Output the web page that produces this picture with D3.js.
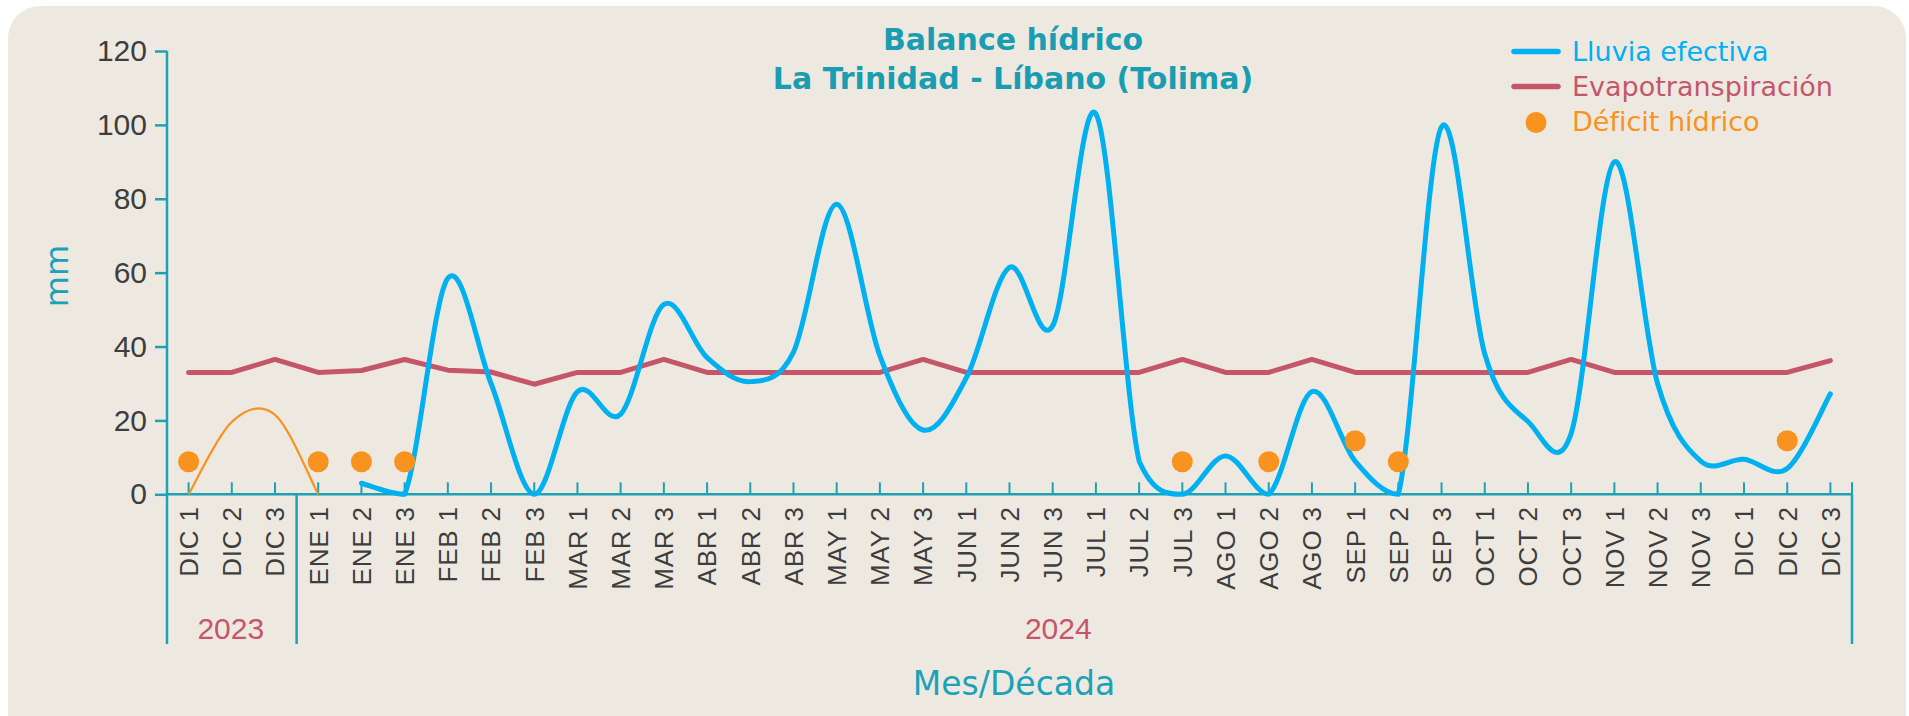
<!DOCTYPE html>
<html lang="es">
    <head>
        <meta charset="UTF-8" />
        <title>Balance hídrico</title>
        <script src="https://cdn.jsdelivr.net/npm/d3@7"></script>
    </head>
    <body style="padding: 0; margin: 0; background-color: #fff;">
        <script>
            // datos por década
            const categories = [
                'DIC 1', 'DIC 2', 'DIC 3',
                'ENE 1', 'ENE 2', 'ENE 3', 'FEB 1', 'FEB 2', 'FEB 3',
                'MAR 1', 'MAR 2', 'MAR 3', 'ABR 1', 'ABR 2', 'ABR 3',
                'MAY 1', 'MAY 2', 'MAY 3', 'JUN 1', 'JUN 2', 'JUN 3',
                'JUL 1', 'JUL 2', 'JUL 3', 'AGO 1', 'AGO 2', 'AGO 3',
                'SEP 1', 'SEP 2', 'SEP 3', 'OCT 1', 'OCT 2', 'OCT 3',
                'NOV 1', 'NOV 2', 'NOV 3', 'DIC 1', 'DIC 2', 'DIC 3'
            ];
            const years = ['2023', '2024'];
            const yearFirstIndex = [0, 3];

            const lluvia = [
                null, null, null,
                null, 3, 0, 58.5, 30, 0,
                27.8, 21.7, 51.4, 37, 30.5, 38.5,
                78.5, 37.5, 17.4, 31.5, 61.4, 45.6,
                103, 9, 0, 10.4, 0, 27.8,
                9, 0, 99.5, 38, 19.7, 16.5,
                90, 30, 9, 9.5, 7, 27.2
            ];
            const lluvia2023 = [
                0, 19.6, 21.5, 0, null, null, null, null, null,
                null, null, null, null, null, null, null, null, null,
                null, null, null, null, null, null, null, null, null,
                null, null, null, null, null, null, null, null, null,
                null, null, null
            ];
            const evapotranspiracion = [
                33, 33, 36.5,
                33, 33.5, 36.5, 33.6, 33.1, 29.8,
                33, 33, 36.5, 33, 33, 33,
                33, 33, 36.5, 33, 33, 33,
                33, 33, 36.5, 33, 33, 36.5,
                33, 33, 33, 33, 33, 36.5,
                33, 33, 33, 33, 33, 36.2
            ];
            const deficit = [
                8.8, null, null,
                8.8, 8.8, 8.8, null, null, null,
                null, null, null, null, null, null,
                null, null, null, null, null, null,
                null, null, 8.8, null, 8.8, null,
                14.5, 8.8, null, null, null, null,
                null, null, null, null, 14.5, null
            ];
            const yTicks = [0, 20, 40, 60, 80, 100, 120];

            const width = 1909;
            const height = 716;
            const teal = '#1ca2b7';
            const azul = '#00b0f0';
            const rojo = '#c5566a';
            const naranja = '#f7931e';
            const gris = '#3d3d3d';

            const plotLeft = 167, plotRight = 1852, plotTop = 51, plotBottom = 494.3;
            const axisBottomEnd = 644;

            // curva suavizada tipo Excel: Bezier de Catmull-Rom sin bajar del eje
            function curveSmooth(floorY) {
                return function (context) {
                    let pts = [];
                    return {
                        areaStart() {},
                        areaEnd() {},
                        lineStart() { pts = []; },
                        point(px, py) { pts.push([+px, +py]); },
                        lineEnd() {
                            if (!pts.length) return;
                            context.moveTo(pts[0][0], pts[0][1]);
                            for (let i = 0; i < pts.length - 1; i++) {
                                const p0 = pts[i - 1] || pts[i];
                                const p1 = pts[i];
                                const p2 = pts[i + 1];
                                const p3 = pts[i + 2] || p2;
                                const c1 = [p1[0] + (p2[0] - p0[0]) / 6, Math.min(floorY, p1[1] + (p2[1] - p0[1]) / 6)];
                                const c2 = [p2[0] - (p3[0] - p1[0]) / 6, Math.min(floorY, p2[1] - (p3[1] - p1[1]) / 6)];
                                context.bezierCurveTo(c1[0], c1[1], c2[0], c2[1], p2[0], p2[1]);
                            }
                        }
                    };
                };
            }

            const svg = d3
                .select('body')
                .append('svg')
                .attr('width', width)
                .attr('height', height);

            // fondo
            svg.append('rect')
                .attr('x', 8)
                .attr('y', 6)
                .attr('width', 1898)
                .attr('height', 780)
                .attr('rx', 32)
                .attr('fill', '#ede9e1');

            const x = d3
                .scaleBand()
                .domain(categories.map((d, i) => i))
                .range([plotLeft, plotRight]);
            const cx = i => x(i) + x.bandwidth() / 2;

            const y = d3.scaleLinear().domain([0, 120]).range([plotBottom, plotTop]);

            // título
            const title = svg.append('text')
                .attr('text-anchor', 'middle')
                .attr('font-family', 'DejaVu Sans')
                .attr('font-weight', 'bold')
                .attr('font-size', 30)
                .attr('fill', '#1a9db1');
            title.append('tspan').attr('x', 1013).attr('y', 49.5).text('Balance hídrico');
            title.append('tspan').attr('x', 1013).attr('y', 88.5).text('La Trinidad - Líbano (Tolima)');

            // eje y
            const yAxis = svg.append('g')
                .attr('transform', `translate(${plotLeft},0)`)
                .call(d3.axisLeft(y).tickValues(yTicks).tickSizeInner(12).tickSizeOuter(0).tickPadding(8));
            yAxis.select('.domain').remove();
            yAxis.selectAll('.tick line').attr('stroke', teal).attr('stroke-width', 2.5);
            yAxis.selectAll('.tick text')
                .attr('font-family', 'Liberation Sans, Arial, sans-serif')
                .attr('font-size', 30)
                .attr('fill', gris);

            svg.append('line')
                .attr('x1', plotLeft).attr('x2', plotLeft)
                .attr('y1', plotTop).attr('y2', axisBottomEnd)
                .attr('stroke', teal).attr('stroke-width', 2.5);

            svg.append('text')
                .attr('transform', 'translate(68,276) rotate(-90)')
                .attr('text-anchor', 'middle')
                .attr('font-family', 'DejaVu Sans')
                .attr('font-size', 32)
                .attr('fill', teal)
                .text('mm');

            // eje x
            const xAxis = svg.append('g')
                .attr('transform', `translate(0,${plotBottom})`)
                .call(d3.axisBottom(x).tickSizeInner(-12).tickSizeOuter(0).tickFormat(i => categories[i]));
            xAxis.select('.domain').attr('stroke', teal).attr('stroke-width', 2.5)
                .attr('d', `M${plotLeft},0H${plotRight}`);
            xAxis.selectAll('.tick line').attr('stroke', teal).attr('stroke-width', 2);
            xAxis.selectAll('.tick text')
                .attr('transform', 'translate(0,12) rotate(-90)')
                .attr('x', 0)
                .attr('y', 0)
                .attr('dy', '0.36em')
                .attr('text-anchor', 'end')
                .attr('font-family', 'Liberation Sans, Arial, sans-serif')
                .attr('font-size', 26)
                .attr('letter-spacing', 0.8)
                .attr('fill', gris);
            xAxis.append('line')
                .attr('x1', plotRight).attr('x2', plotRight)
                .attr('y1', 0).attr('y2', -12)
                .attr('stroke', teal).attr('stroke-width', 2);

            // separadores de año
            const bounds = yearFirstIndex.map(i => x(i)).concat([plotRight]);
            bounds.slice(1).forEach(bx => {
                svg.append('line')
                    .attr('x1', bx).attr('x2', bx)
                    .attr('y1', plotBottom).attr('y2', axisBottomEnd)
                    .attr('stroke', teal).attr('stroke-width', 2.5);
            });
            svg.selectAll('.year')
                .data(years)
                .join('text')
                .attr('class', 'year')
                .attr('x', (d, i) => (bounds[i] + bounds[i + 1]) / 2 - (i ? 16 : 1))
                .attr('y', 639)
                .attr('text-anchor', 'middle')
                .attr('font-family', 'Liberation Sans, Arial, sans-serif')
                .attr('font-size', 30)
                .attr('fill', rojo)
                .text(d => d);

            svg.append('text')
                .attr('x', 1014)
                .attr('y', 695)
                .attr('text-anchor', 'middle')
                .attr('font-family', 'DejaVu Sans')
                .attr('font-size', 33)
                .attr('fill', teal)
                .text('Mes/Década');

            // series
            const line = d3.line()
                .defined(d => d != null)
                .x((d, i) => cx(i))
                .y(d => y(d));

            svg.append('path')
                .attr('d', line.curve(curveSmooth(y(0)))(lluvia2023))
                .attr('fill', 'none')
                .attr('stroke', naranja)
                .attr('stroke-width', 2.2);

            svg.append('path')
                .attr('d', line.curve(d3.curveLinear)(evapotranspiracion))
                .attr('fill', 'none')
                .attr('stroke', rojo)
                .attr('stroke-width', 5)
                .attr('stroke-linejoin', 'round')
                .attr('stroke-linecap', 'round');

            svg.append('path')
                .attr('d', line.curve(curveSmooth(y(0)))(lluvia))
                .attr('fill', 'none')
                .attr('stroke', azul)
                .attr('stroke-width', 5)
                .attr('stroke-linejoin', 'round')
                .attr('stroke-linecap', 'round');

            svg.selectAll('.deficit')
                .data(deficit.map((v, i) => ({ v, i })).filter(d => d.v != null))
                .join('circle')
                .attr('class', 'deficit')
                .attr('cx', d => cx(d.i))
                .attr('cy', d => y(d.v))
                .attr('r', 10.5)
                .attr('fill', naranja);

            // leyenda
            const legend = svg.append('g')
                .attr('font-family', 'DejaVu Sans')
                .attr('font-size', 27);
            const items = [
                { name: 'Lluvia efectiva', color: azul, type: 'line' },
                { name: 'Evapotranspiración', color: rojo, type: 'line' },
                { name: 'Déficit hídrico', color: naranja, type: 'dot' }
            ];
            items.forEach((it, k) => {
                const by = 60.5 + k * 35;
                if (it.type === 'line') {
                    legend.append('line')
                        .attr('x1', 1514).attr('x2', 1558)
                        .attr('y1', by - 9).attr('y2', by - 9)
                        .attr('stroke', it.color)
                        .attr('stroke-width', 5.5)
                        .attr('stroke-linecap', 'round');
                } else {
                    legend.append('circle')
                        .attr('cx', 1536).attr('cy', by - 8)
                        .attr('r', 10.5)
                        .attr('fill', it.color);
                }
                legend.append('text')
                    .attr('x', 1572)
                    .attr('y', by)
                    .attr('fill', it.color)
                    .text(it.name);
            });
        </script>
    </body>
</html>
